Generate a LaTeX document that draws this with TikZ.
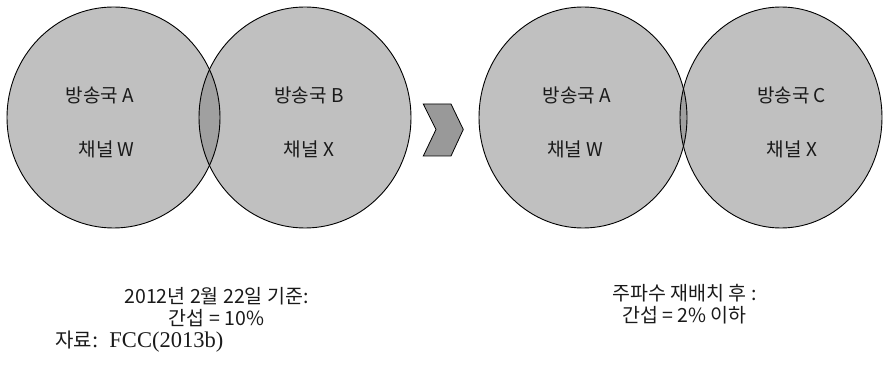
\documentclass[tikz,border=0pt]{standalone}
\usepackage{fontspec}
\newfontfamily\kr{Noto Sans CJK KR}
\newfontfamily\lserif{Liberation Serif}
\definecolor{circfill}{HTML}{C0C0C0}
\definecolor{lensfill}{HTML}{A0A0A0}
\definecolor{chevfill}{HTML}{999999}
\definecolor{txt}{HTML}{1A1A1A}
\begin{document}
\begin{tikzpicture}[x=1pt,y=-1pt,
  lbl/.style={inner sep=0pt,text=txt,font=\kr\fontsize{19}{22}\selectfont},
  captext/.style={inner sep=0pt,text=txt,align=center,font=\kr\fontsize{19.5}{22}\selectfont},
  ring/.style={draw=black,line width=0.9pt}]
\useasboundingbox (0,0) rectangle (883,371);
% left pair
\fill[circfill] (113.5,117.5) ellipse [x radius=106.5, y radius=110.5];
\fill[circfill] (305,117.5) ellipse [x radius=106, y radius=110.5];
\begin{scope}
  \clip (113.5,117.5) ellipse [x radius=106.5, y radius=110.5];
  \fill[lensfill] (305,117.5) ellipse [x radius=106, y radius=110.5];
\end{scope}
\draw[ring] (113.5,117.5) ellipse [x radius=106.5, y radius=110.5];
\draw[ring] (305,117.5) ellipse [x radius=106, y radius=110.5];
% right pair
\fill[circfill] (583,117.5) ellipse [x radius=104, y radius=110.5];
\fill[circfill] (781,117.5) ellipse [x radius=101, y radius=110.5];
\begin{scope}
  \clip (583,117.5) ellipse [x radius=104, y radius=110.5];
  \fill[lensfill] (781,117.5) ellipse [x radius=101, y radius=110.5];
\end{scope}
\draw[ring] (583,117.5) ellipse [x radius=104, y radius=110.5];
\draw[ring] (781,117.5) ellipse [x radius=101, y radius=110.5];
% chevron
\draw[fill=chevfill,line width=0.8pt,line join=miter] (423.3,104) -- (451,104) -- (463.3,129.5) -- (451,156) -- (423.3,156) -- (436,129.5) -- cycle;
% labels
\node[lbl] (a1) at (100,95.5) {방송국 A};
\node[lbl] (w1) at (106.5,149) {채널 W};
\node[lbl] (b1) at (309,95.5) {방송국 B};
\node[lbl] (x1) at (309,149) {채널 X};
\node[lbl] (a2) at (577,95.5) {방송국 A};
\node[lbl] (w2) at (575,149) {채널 W};
\node[lbl] (c2) at (791.5,95.5) {방송국 C};
\node[lbl] (x2) at (792,149) {채널 X};
% captions
\node[captext] (capL) at (216.5,307) {2012년 2월 22일 기준:\\간섭 = 10\%};
\node[captext] (capR) at (684.5,304) {주파수 재배치 후 :\\간섭 = 2\% 이하};
\node[inner sep=0pt,text=txt,anchor=west] (src) at (55,342) {{\kr\fontsize{20}{22}\selectfont 자료}{\lserif\fontsize{22.5}{22}\selectfont :\ \ FCC(2013b)}};
\end{tikzpicture}
\end{document}
